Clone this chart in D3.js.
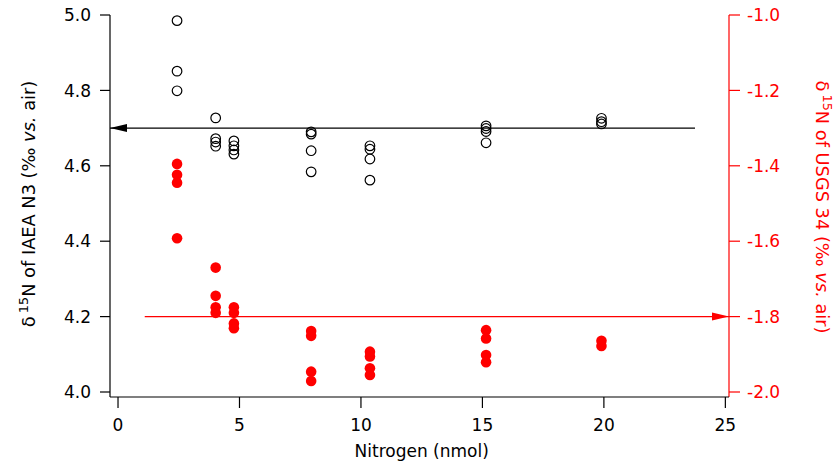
<!DOCTYPE html>
<html><head><meta charset="utf-8">
<script src="https://cdn.jsdelivr.net/npm/d3@7"></script>
<style>
html,body{margin:0;padding:0;background:#fff;}
svg text{font-family:"DejaVu Sans",Verdana,sans-serif;}
</style></head>
<body>
<svg id="chart" width="840" height="466"></svg>
<script>
// IAEA N3 (left axis, open black circles)
const n3Nitrogen = [2.43,2.43,2.43, 4.02,4.02,4.02,4.02, 4.77,4.77,4.77,4.77, 7.95,7.95,7.95,7.95, 10.37,10.37,10.37,10.37, 15.15,15.15,15.15,15.15, 19.9,19.9,19.9];
const n3Delta = [4.985,4.851,4.799, 4.727,4.672,4.663,4.652, 4.666,4.653,4.642,4.631, 4.690,4.684,4.640,4.584, 4.653,4.644,4.618,4.562, 4.706,4.699,4.691,4.661, 4.726,4.717,4.711];
// USGS 34 (right axis, filled red circles)
const usgsNitrogen = [2.43,2.43,2.43,2.43, 4.02,4.02,4.02,4.02, 4.77,4.77,4.77,4.77, 7.95,7.95,7.95,7.95, 10.37,10.37,10.37,10.37, 15.15,15.15,15.15,15.15, 19.9,19.9];
const usgsDelta = [-1.395,-1.424,-1.445,-1.592, -1.670,-1.745,-1.775,-1.790, -1.775,-1.790,-1.818,-1.831, -1.838,-1.851,-1.946,-1.971, -1.893,-1.906,-1.937,-1.955, -1.836,-1.858,-1.902,-1.921, -1.864,-1.878];
// reference arrows
const n3Ref = {value: 4.70, from: 23.75, to: -0.33};
const usgsRef = {value: -1.80, from: 1.1, to: 25.15};
// ticks
const xTicks = [0,5,10,15,20,25];
const leftTicks = [4.0,4.2,4.4,4.6,4.8,5.0];
const rightTicks = [-2.0,-1.8,-1.6,-1.4,-1.2,-1.0];

const svg = d3.select("#chart");
const FS = 17;
const TFS = 17.8;
const x = d3.scaleLinear().domain([-0.33, 25.15]).range([110, 729]);
const yL = d3.scaleLinear().domain([4.0, 5.0]).range([392, 15]);
const yR = d3.scaleLinear().domain([-2.0, -1.0]).range([392, 15]);
const bottomY = 397;

function axisLine(x1,y1,x2,y2,color){svg.append("line").attr("x1",x1).attr("y1",y1).attr("x2",x2).attr("y2",y2).attr("stroke",color).attr("stroke-width",1.2);}

// left axis
axisLine(x.range()[0], yL(5.0), x.range()[0], bottomY, "#000");
leftTicks.forEach(t=>{
  axisLine(x.range()[0]-10, yL(t), x.range()[0], yL(t), "#000");
  svg.append("text").attr("x", x.range()[0]-19).attr("y", yL(t)).attr("dy","0.36em")
    .attr("text-anchor","end").attr("font-size",FS).attr("fill","#000").text(d3.format(".1f")(t));
});
// right axis
axisLine(x.range()[1], yR(-1.0), x.range()[1], bottomY, "#ff0000");
rightTicks.forEach(t=>{
  axisLine(x.range()[1], yR(t), x.range()[1]+11, yR(t), "#ff0000");
  svg.append("text").attr("x", x.range()[1]+18).attr("y", yR(t)).attr("dy","0.36em")
    .attr("text-anchor","start").attr("font-size",FS).attr("fill","#ff0000").text(d3.format(".1f")(t).replace("−","-"));
});
// bottom axis
axisLine(x.range()[0], bottomY, x.range()[1], bottomY, "#000");
xTicks.forEach(t=>{
  axisLine(x(t), bottomY, x(t), bottomY+11, "#000");
  svg.append("text").attr("x", x(t)).attr("y", 425).attr("dy","0.36em")
    .attr("text-anchor","middle").attr("font-size",FS).attr("fill","#000").text(t);
});
svg.append("text").attr("x", (x(0)+x(25))/2).attr("y", 451).attr("dy","0.36em")
  .attr("text-anchor","middle").attr("font-size",FS).attr("fill","#000").text("Nitrogen (nmol)");

// axis titles
function title(xc, yc, rot, color, label){
  const t = svg.append("text").attr("transform",`translate(${xc},${yc}) rotate(${rot})`)
    .attr("text-anchor","middle").attr("dy","0.36em").attr("font-size",TFS).attr("fill",color);
  t.append("tspan").text("δ");
  t.append("tspan").attr("font-size",TFS*0.72).attr("dx","0.25em").attr("dy","-0.6em").text("15");
  t.append("tspan").attr("dy","0.43em").text(label + " (‰ ");
  t.append("tspan").attr("font-style","italic").text("vs.");
  t.append("tspan").text(" air)");
  return t;
}
title(29, 204, -90, "#000", "N of IAEA N3");
title(822, 207, 90, "#ff0000", "N of USGS 34");

// reference arrows
function arrow(x1, x2, yy, color){
  svg.append("line").attr("x1",x1).attr("y1",yy).attr("x2",x2).attr("y2",yy).attr("stroke",color).attr("stroke-width",1.3);
  const dir = Math.sign(x2-x1);
  const L = 17, W = 4;
  svg.append("path").attr("d",`M${x2},${yy} L${x2-dir*L},${yy-W} L${x2-dir*L},${yy+W} Z`).attr("fill",color);
}
arrow(x(n3Ref.from), x(n3Ref.to), yL(n3Ref.value), "#000");
arrow(x(usgsRef.from), x(usgsRef.to), yR(usgsRef.value), "#ff0000");

// points
svg.append("g").selectAll("circle").data(usgsDelta).join("circle")
  .attr("cx",(d,i)=>x(usgsNitrogen[i])).attr("cy",d=>yR(d)).attr("r",5.3).attr("fill","#ff0000");
svg.append("g").selectAll("circle").data(n3Delta).join("circle")
  .attr("cx",(d,i)=>x(n3Nitrogen[i])).attr("cy",d=>yL(d)).attr("r",4.8)
  .attr("fill","none").attr("stroke","#000").attr("stroke-width",1.2);
</script>
</body></html>
